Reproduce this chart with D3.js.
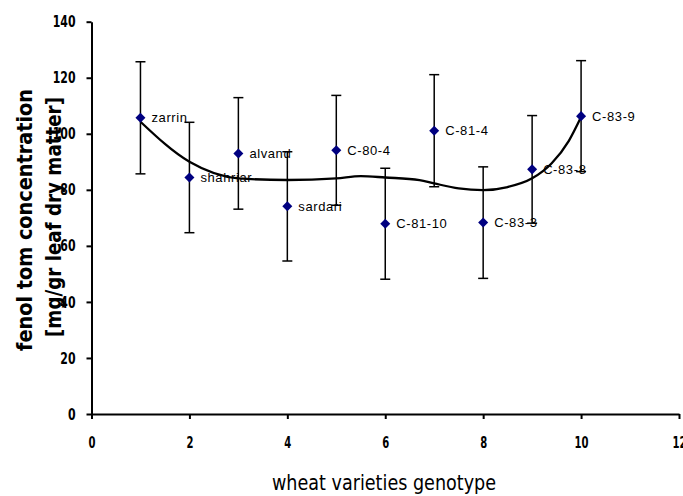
<!DOCTYPE html>
<html>
<head>
    <script src="https://d3js.org/d3.v7.min.js" charset="utf-8"></script>
    <title>Fenol tom concentration by wheat variety</title>
    <style type="text/css">
        body {
            margin: 0;
            background: #fff;
        }
        .axis text {
            font-family: "DejaVu Sans", sans-serif;
            font-weight: bold;
            font-size: 16px;
            fill: #000;
        }
        .axis path,
        .axis line {
            stroke: #000;
            stroke-width: 2;
        }
        .pointLabel {
            font-family: "Liberation Sans", Arial, sans-serif;
            font-size: 13px;
            letter-spacing: 0.6px;
        }
        .title {
            font-family: "DejaVu Sans", sans-serif;
        }
    </style>
</head>
<body>
<div id="chart"></div>
<script>

// genotype number, variety name, mean value and error
var genotypes = [1, 2, 3, 4, 5, 6, 7, 8, 9, 10];
var varieties = ["zarrin", "shahriar", "alvand", "sardari", "C-80-4",
                 "C-81-10", "C-81-4", "C-83-3", "C-83-8", "C-83-9"];
var means  = [105.7, 84.4, 93.0, 74.1, 94.1, 67.9, 101.1, 68.3, 87.3, 106.3];
var errors = [20.0, 19.7, 19.9, 19.5, 19.6, 19.8, 20.0, 19.9, 19.2, 19.8];

// trend line as it is drawn
var trendX = [1, 2, 3, 4, 5, 5.5, 6, 6.7, 7, 7.5, 8, 8.5, 9, 9.4, 9.75, 10];
var trendY = [104.3, 90.0, 84.1, 83.5, 84.1, 84.9, 84.4, 83.5, 82.3, 80.5, 79.9, 81.0, 84.1, 89.5, 97.5, 106.0];

var xTicks = [0, 2, 4, 6, 8, 10, 12];
var yTicks = [0, 20, 40, 60, 80, 100, 120, 140];

var width = 683, height = 496;

var svg = d3.select("#chart").append("svg")
        .attr("width", width)
        .attr("height", height);

var x = d3.scaleLinear().domain([0, 12]).range([91.5, 679]);
var y = d3.scaleLinear().domain([0, 140]).range([414, 21.7]);

var points = genotypes.map(function (g, i) {
    return {x: g, name: varieties[i], value: means[i], err: errors[i]};
});

// axes (tick labels squeezed to look like the narrow font of the original)
var yAxis = svg.append("g")
        .attr("class", "axis")
        .attr("transform", "translate(" + x(0) + ",0)")
        .call(d3.axisLeft(y).tickValues(yTicks).tickSize(5).tickSizeOuter(0).tickPadding(11));

var xAxis = svg.append("g")
        .attr("class", "axis")
        .attr("transform", "translate(0," + y(0) + ")")
        .call(d3.axisBottom(x).tickValues(xTicks).tickSize(5).tickSizeOuter(0).tickPadding(18));

yAxis.selectAll("text")
        .attr("textLength", function (d) { return String(d).length * 7.6; })
        .attr("lengthAdjust", "spacingAndGlyphs");
xAxis.selectAll("text")
        .attr("textLength", function (d) { return String(d).length * 7; })
        .attr("lengthAdjust", "spacingAndGlyphs");

// error bars
var bars = svg.append("g").selectAll("g")
        .data(points)
        .enter().append("g")
        .attr("stroke", "#000")
        .attr("stroke-width", 1.5);

bars.append("line")
        .attr("x1", function (d) { return x(d.x); })
        .attr("x2", function (d) { return x(d.x); })
        .attr("y1", function (d) { return y(d.value + d.err); })
        .attr("y2", function (d) { return y(d.value - d.err); });
bars.append("line")
        .attr("x1", function (d) { return x(d.x) - 5; })
        .attr("x2", function (d) { return x(d.x) + 5; })
        .attr("y1", function (d) { return y(d.value + d.err); })
        .attr("y2", function (d) { return y(d.value + d.err); });
bars.append("line")
        .attr("x1", function (d) { return x(d.x) - 5; })
        .attr("x2", function (d) { return x(d.x) + 5; })
        .attr("y1", function (d) { return y(d.value - d.err); })
        .attr("y2", function (d) { return y(d.value - d.err); });

// point labels
svg.append("g").selectAll("text")
        .data(points)
        .enter().append("text")
        .attr("class", "pointLabel")
        .attr("x", function (d) { return x(d.x) + 11; })
        .attr("y", function (d) { return y(d.value); })
        .attr("dy", "0.36em")
        .text(function (d) { return d.name; });

// trend curve
var trend = trendX.map(function (v, i) { return [v, trendY[i]]; });
svg.append("path")
        .datum(trend)
        .attr("fill", "none")
        .attr("stroke", "#000")
        .attr("stroke-width", 2.3)
        .attr("d", d3.line()
                .x(function (d) { return x(d[0]); })
                .y(function (d) { return y(d[1]); })
                .curve(d3.curveMonotoneX));

// diamond markers
svg.append("g").selectAll("path")
        .data(points)
        .enter().append("path")
        .attr("transform", function (d) { return "translate(" + x(d.x) + "," + y(d.value) + ")"; })
        .attr("d", d3.symbol().type(d3.symbolDiamond2).size(64))
        .attr("fill", "#000080");

// axis titles
var yTitle = svg.append("g")
        .attr("class", "title")
        .attr("font-weight", "bold")
        .attr("font-size", "22px");
yTitle.append("text")
        .attr("transform", "translate(32,220) rotate(-90)")
        .attr("text-anchor", "middle")
        .attr("textLength", 262)
        .attr("lengthAdjust", "spacingAndGlyphs")
        .text("fenol tom concentration");
yTitle.append("text")
        .attr("transform", "translate(61,217) rotate(-90)")
        .attr("text-anchor", "middle")
        .attr("textLength", 240)
        .attr("lengthAdjust", "spacingAndGlyphs")
        .text("[mg/gr leaf dry matter]");

svg.append("text")
        .attr("class", "title")
        .attr("x", 384)
        .attr("y", 490)
        .attr("text-anchor", "middle")
        .attr("font-size", "22px")
        .attr("textLength", 224)
        .attr("lengthAdjust", "spacingAndGlyphs")
        .text("wheat varieties genotype");

</script>
</body>
</html>
